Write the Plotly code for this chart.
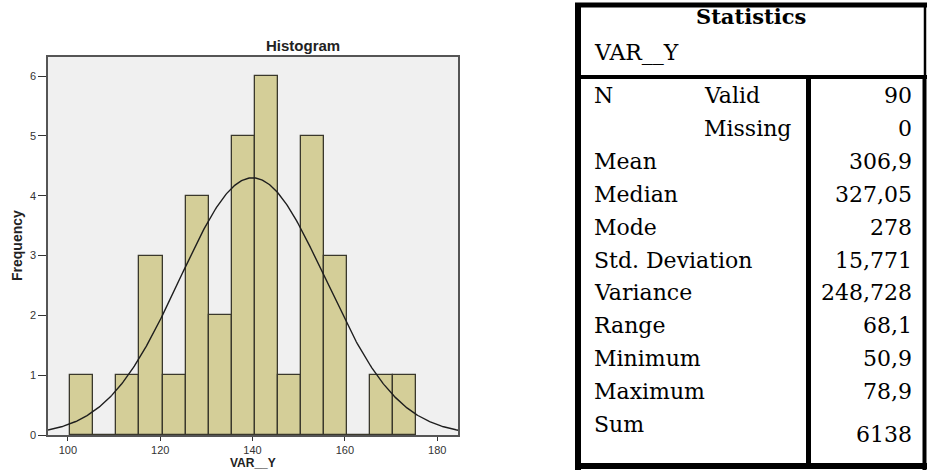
import numpy as np
import plotly.graph_objects as go

# ---------------- data ----------------
bin_left_edges = [100.5, 105.5, 110.5, 115.5, 120.5, 125.5, 130.5, 135.5,
                  140.5, 145.5, 150.5, 155.5, 160.5, 165.5, 170.5]
bin_counts = [1, 0, 1, 3, 1, 4, 2, 5, 6, 1, 5, 3, 0, 1, 1]
bin_width = 5
curve_mean = 140.0
curve_sd = 15.771
x_ticks = [100, 120, 140, 160, 180]
y_ticks = [0, 1, 2, 3, 4, 5, 6]

stat_names = ["N", "", "Mean", "Median", "Mode", "Std. Deviation", "Variance",
              "Range", "Minimum", "Maximum", "Sum"]
stat_sub = ["Valid", "Missing", "", "", "", "", "", "", "", "", ""]
stat_values = ["90", "0", "306,9", "327,05", "278", "15,771", "248,728",
               "68,1", "50,9", "78,9", "6138"]

# ---------------- layout helpers ----------------
W, H = 927, 471
def px(x):
    return x / W
def py(y):
    return 1 - y / H

x_range = [95.7, 184.5]
y_range = [0, 6.32]

bin_centers = [e + bin_width / 2 for e in bin_left_edges]
total_n = sum(bin_counts)
xs = np.linspace(x_range[0], x_range[1], 400)
ys = total_n * bin_width * np.exp(-0.5 * ((xs - curve_mean) / curve_sd) ** 2) / (curve_sd * np.sqrt(2 * np.pi))

fig = go.Figure()
fig.add_trace(go.Bar(
    x=bin_centers, y=bin_counts, width=bin_width,
    marker=dict(color="#D4CE98", line=dict(color="#3A382C", width=1.3)),
    showlegend=False, hoverinfo="x+y"))
fig.add_trace(go.Scatter(
    x=xs, y=ys, mode="lines", line=dict(color="#1E1E1E", width=1.4),
    showlegend=False, hoverinfo="skip"))

axis_font = dict(family="Liberation Sans, Arial, sans-serif", size=11, color="#333333")
fig.update_layout(
    width=W, height=H,
    margin=dict(l=0, r=0, t=0, b=0),
    paper_bgcolor="white",
    plot_bgcolor="#F0F0F0",
    template="none",
    bargap=0,
    xaxis=dict(domain=[px(48), px(458)], range=x_range, tickvals=x_ticks,
               showgrid=False, zeroline=False, showline=True, mirror=True,
               linecolor="#555555", linewidth=1.5, ticks="outside", ticklen=4,
               tickcolor="#333333", tickfont=axis_font, automargin=False),
    yaxis=dict(domain=[py(435), py(57)], range=y_range, tickvals=y_ticks,
               showgrid=False, zeroline=False, showline=True, mirror=True,
               linecolor="#555555", linewidth=1.5, ticks="outside", ticklen=8,
               tickcolor="#333333", tickfont=axis_font, automargin=False),
)

annotations = []
# histogram titles
annotations.append(dict(x=px(303), y=py(46), xref="paper", yref="paper",
                        text="<b>Histogram</b>", showarrow=False,
                        font=dict(family="Liberation Sans, Arial, sans-serif", size=15, color="#222222"),
                        xanchor="center", yanchor="middle"))
annotations.append(dict(x=px(17), y=py(246), xref="paper", yref="paper",
                        text="<b>Frequency</b>", showarrow=False, textangle=-90,
                        font=dict(family="Liberation Sans, Arial, sans-serif", size=14, color="#222222"),
                        xanchor="center", yanchor="middle"))
annotations.append(dict(x=px(253), y=0, xref="paper", yref="paper",
                        text="<b>VAR__Y</b>", showarrow=False, borderpad=0,
                        font=dict(family="Liberation Sans, Arial, sans-serif", size=12, color="#222222"),
                        xanchor="center", yanchor="bottom"))

# table texts
tfont = dict(family="DejaVu Serif, serif", size=22, color="#000000")
annotations.append(dict(x=px(751), y=py(17), xref="paper", yref="paper",
                        text="<b>Statistics</b>", showarrow=False,
                        font=dict(family="DejaVu Serif, serif", size=21, color="#000000"),
                        xanchor="center", yanchor="middle"))
annotations.append(dict(x=px(592), y=py(53), xref="paper", yref="paper",
                        text="VAR__Y", showarrow=False, font=tfont,
                        xanchor="left", yanchor="middle"))
row0, pitch = 96, 32.8
for i, (nm, sub, val) in enumerate(zip(stat_names, stat_sub, stat_values)):
    yy = row0 + i * pitch
    if nm:
        annotations.append(dict(x=px(592), y=py(yy), xref="paper", yref="paper",
                                text=nm, showarrow=False, font=tfont,
                                xanchor="left", yanchor="middle"))
    if sub:
        annotations.append(dict(x=px(702), y=py(yy), xref="paper", yref="paper",
                                text=sub, showarrow=False, font=tfont,
                                xanchor="left", yanchor="middle"))
    vy = yy + (10 if i == len(stat_values) - 1 else 0)
    annotations.append(dict(x=px(914), y=py(vy), xref="paper", yref="paper",
                            text=val, showarrow=False, font=tfont,
                            xanchor="right", yanchor="middle"))

shapes = []
def hline(x0, x1, y, w):
    shapes.append(dict(type="line", xref="paper", yref="paper",
                       x0=px(x0), x1=px(x1), y0=py(y), y1=py(y),
                       line=dict(color="black", width=w)))
def vline(x, y0, y1, w):
    shapes.append(dict(type="line", xref="paper", yref="paper",
                       x0=px(x), x1=px(x), y0=py(y0), y1=py(y1),
                       line=dict(color="black", width=w)))

hline(575, 927, 5, 5)      # top border
vline(578, 3, 470, 6)      # left border
vline(925, 3, 77, 2.5)     # right border (header)
vline(924.5, 77, 470, 4)   # right border (body)
hline(575, 927, 77, 4)     # header separator
vline(808.5, 77, 466, 5)   # column divider
hline(575, 927, 466, 6)    # bottom border

fig.update_layout(annotations=annotations, shapes=shapes)
fig.write_html("out.html",
               config={"displayModeBar": False},
               post_script="document.body.style.margin='0';document.body.style.overflow='hidden';")
